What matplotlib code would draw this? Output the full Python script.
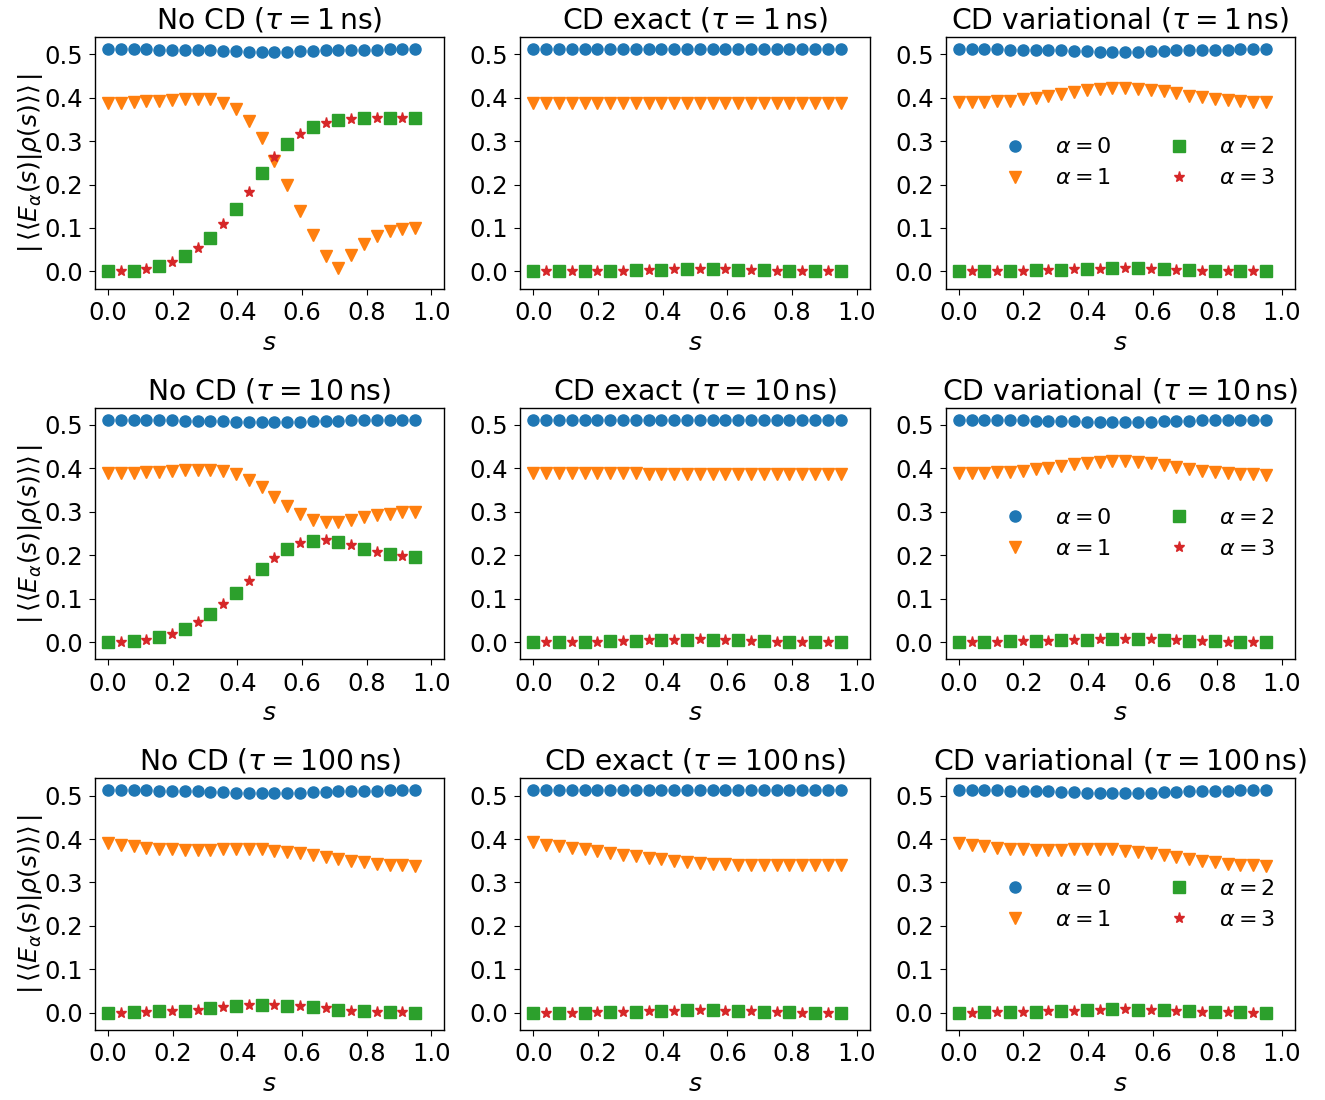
import numpy as np
import matplotlib
matplotlib.use("Agg")
import matplotlib.pyplot as plt

plt.rcParams['font.size'] = 17.5
plt.rcParams['font.family'] = ['DejaVu Sans']
plt.rcParams['xtick.major.size'] = 4.3
plt.rcParams['ytick.major.size'] = 4.3
plt.rcParams['xtick.major.pad'] = 4.5
plt.rcParams['ytick.major.pad'] = 4.5
plt.rcParams['axes.linewidth'] = 1.0

# grid of s values
s = np.linspace(0.0, 0.95, 25)
s_even = s[0::2]
s_odd = s[1::2]

methods = ["No CD", "CD exact", "CD variational"]
taus = [1, 10, 100]

# alpha = 0 populations
blue_dip = [0.512, 0.512, 0.512, 0.512, 0.511, 0.511, 0.510, 0.510, 0.509, 0.508,
            0.507, 0.506, 0.506, 0.506, 0.506, 0.507, 0.508, 0.509, 0.510, 0.511,
            0.511, 0.511, 0.512, 0.512, 0.512]
blue_flat = [0.512] * 25

# ---- No CD ----
nocd1_a1 = [0.389, 0.389, 0.390, 0.392, 0.392, 0.395, 0.396, 0.397, 0.396, 0.388,
            0.373, 0.346, 0.307, 0.255, 0.198, 0.140, 0.084, 0.036, 0.007, 0.038,
            0.063, 0.081, 0.093, 0.098, 0.101]
nocd1_a2 = [0.0, 0.002, 0.012, 0.035, 0.078, 0.144, 0.226, 0.294, 0.333, 0.348,
            0.353, 0.353, 0.353]
nocd1_a3 = [0.0, 0.005, 0.021, 0.053, 0.109, 0.184, 0.263, 0.316, 0.342, 0.351,
            0.353, 0.353]

nocd10_a1 = [0.389, 0.389, 0.390, 0.391, 0.392, 0.393, 0.396, 0.396, 0.396, 0.393,
             0.387, 0.374, 0.356, 0.334, 0.313, 0.294, 0.281, 0.276, 0.276, 0.280,
             0.287, 0.293, 0.296, 0.299, 0.299]
nocd10_a2 = [0.0, 0.002, 0.011, 0.031, 0.065, 0.114, 0.169, 0.214, 0.233, 0.231,
             0.215, 0.202, 0.197]
nocd10_a3 = [0.0, 0.005, 0.019, 0.047, 0.088, 0.141, 0.194, 0.228, 0.234, 0.224,
             0.207, 0.199]

nocd100_a1 = [0.391, 0.386, 0.383, 0.380, 0.378, 0.377, 0.375, 0.375, 0.375, 0.376,
              0.377, 0.377, 0.376, 0.373, 0.370, 0.367, 0.363, 0.358, 0.354, 0.350,
              0.346, 0.343, 0.340, 0.340, 0.339]
nocd100_a2 = [0.0, 0.001, 0.003, 0.005, 0.011, 0.015, 0.018, 0.016, 0.012, 0.006,
              0.003, 0.001, 0.0]
nocd100_a3 = [0.0, 0.002, 0.004, 0.007, 0.012, 0.017, 0.018, 0.015, 0.010, 0.005,
              0.002, 0.001]

# ---- CD exact ----
exact1_a1 = [0.389] * 25
exact10_a1 = [0.390, 0.390, 0.390, 0.390, 0.389, 0.389, 0.389, 0.389, 0.389, 0.388,
              0.388, 0.388, 0.388, 0.388, 0.387, 0.387, 0.387, 0.387, 0.386, 0.386,
              0.386, 0.386, 0.386, 0.386, 0.386]
exact100_a1 = [0.392, 0.387, 0.384, 0.380, 0.376, 0.372, 0.368, 0.364, 0.360, 0.356,
               0.353, 0.350, 0.347, 0.345, 0.343, 0.342, 0.341, 0.340, 0.340, 0.340,
               0.340, 0.340, 0.340, 0.340, 0.340]
bump_a2 = [0.0, 0.0, 0.0, 0.0015, 0.0025, 0.004, 0.0055, 0.0055, 0.004, 0.0025,
           0.001, 0.0, 0.0]
bump_a3 = [0.0, 0.0, 0.001, 0.002, 0.004, 0.005, 0.0065, 0.005, 0.003, 0.001,
           0.0, 0.0]

# ---- CD variational ----
var1_a1 = [0.390, 0.390, 0.391, 0.392, 0.393, 0.396, 0.400, 0.405, 0.408, 0.413,
           0.417, 0.420, 0.422, 0.423, 0.421, 0.418, 0.415, 0.410, 0.405, 0.401,
           0.398, 0.395, 0.392, 0.391, 0.390]
var10_a1 = [0.390, 0.390, 0.390, 0.391, 0.392, 0.395, 0.398, 0.402, 0.405, 0.409,
            0.412, 0.415, 0.417, 0.417, 0.415, 0.412, 0.408, 0.403, 0.399, 0.395,
            0.392, 0.389, 0.388, 0.386, 0.385]
var100_a1 = nocd100_a1
varbump_a2 = [0.0, 0.001, 0.0015, 0.0025, 0.004, 0.0055, 0.0075, 0.007, 0.0055,
              0.003, 0.0015, 0.0005, 0.0]
varbump_a3 = [0.0, 0.0005, 0.002, 0.003, 0.005, 0.0065, 0.0075, 0.006, 0.004,
              0.002, 0.001, 0.0]

panels = {
    ("No CD", 1): (blue_dip, nocd1_a1, nocd1_a2, nocd1_a3),
    ("No CD", 10): (blue_dip, nocd10_a1, nocd10_a2, nocd10_a3),
    ("No CD", 100): (blue_dip, nocd100_a1, nocd100_a2, nocd100_a3),
    ("CD exact", 1): (blue_flat, exact1_a1, bump_a2, bump_a3),
    ("CD exact", 10): (blue_flat, exact10_a1, bump_a2, bump_a3),
    ("CD exact", 100): (blue_flat, exact100_a1, bump_a2, bump_a3),
    ("CD variational", 1): (blue_dip, var1_a1, varbump_a2, varbump_a3),
    ("CD variational", 10): (blue_dip, var10_a1, varbump_a2, varbump_a3),
    ("CD variational", 100): (blue_dip, var100_a1, varbump_a2, varbump_a3),
}

colors = ['#1f77b4', '#ff7f0e', '#2ca02c', '#d62728']
ms = 8.0

fig, axes = plt.subplots(3, 3, figsize=(13.25, 11), dpi=100)
fig.subplots_adjust(left=0.0717, right=0.9774, top=0.9664, bottom=0.0636,
                    wspace=0.218, hspace=0.472)

for i, tau in enumerate(taus):
    for j, m in enumerate(methods):
        ax = axes[i, j]
        a0, a1, a2, a3 = panels[(m, tau)]
        ax.plot(s, a0, 'o', color=colors[0], ms=ms, label=r'$\alpha=0$')
        ax.plot(s, a1, 'v', color=colors[1], ms=ms, label=r'$\alpha=1$')
        ax.plot(s_even, a2, 's', color=colors[2], ms=ms, label=r'$\alpha=2$')
        ax.plot(s_odd, a3, '*', color=colors[3], ms=ms, label=r'$\alpha=3$')
        ax.set_xlim(-0.04, 1.04)
        ax.set_ylim(-0.04, 0.54)
        ax.set_xticks([0.0, 0.2, 0.4, 0.6, 0.8, 1.0])
        ax.set_yticks([0.0, 0.1, 0.2, 0.3, 0.4, 0.5])
        ax.set_title(m + r' ($\tau=%d\,$ns)' % tau, fontsize=20.3)
        ax.set_xlabel(r'$s$', fontsize=18)
        if j == 0:
            ax.set_ylabel(r'$|\,\langle\langle E_\alpha(s)|\rho(s)\rangle\rangle\,|$',
                          fontsize=18, labelpad=-1)
        if j == 2:
            ax.legend(loc='center right', ncol=2, frameon=False, fontsize=16)

fig.savefig('out.png', dpi=100)
